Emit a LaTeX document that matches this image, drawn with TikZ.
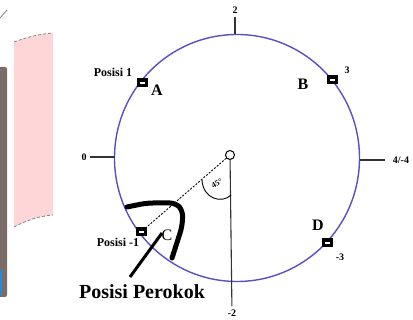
\documentclass[tikz,border=0pt]{standalone}
\usepackage{fontspec}
\setmainfont{Liberation Serif}
\usepackage{xcolor}
\usepackage{tikz}
\usetikzlibrary{calc}
\definecolor{ringblue}{RGB}{88,78,200}
\definecolor{barbrown}{RGB}{122,108,104}
\definecolor{bandpink}{RGB}{255,214,216}
\definecolor{tabblue}{RGB}{30,140,220}

\begin{document}
\begin{tikzpicture}[x=1pt,y=-1pt,
    marker/.style={fill=black,minimum width=11pt,minimum height=9pt,inner sep=0pt},
    letter/.style={font=\bfseries\fontsize{16}{16}\selectfont,inner sep=0pt},
    poslabel/.style={font=\bfseries\fontsize{12}{12}\selectfont,inner sep=0pt},
    num/.style={font=\bfseries\fontsize{10}{10}\selectfont,inner sep=3pt},
    tick/.style={line width=1.1pt,black!80}]
    \useasboundingbox (0,0) rectangle (413,320);
    % edge of the screenshot
    \fill[barbrown,rounded corners=2pt] (-4,67) rectangle (7,297);
    \fill[tabblue] (-4,270) rectangle (2,295);
    \draw[gray,line width=0.8pt] (0,18) -- (7,10);
    \fill[bandpink] (14,42) .. controls (27,37) and (40,34) .. (53,33) -- (53,215)
        .. controls (40,216) and (27,220) .. (14,227) -- cycle;
    \draw[gray,dash pattern=on 3pt off 2pt,line width=0.8pt] (14,42) .. controls (27,37) and (40,34) .. (53,33);
    \draw[gray,dash pattern=on 3pt off 2pt,line width=0.8pt] (14,227) .. controls (27,220) and (40,216) .. (53,215);
    % ring
    \draw[ringblue,line width=1.4pt] (237,158) ellipse [x radius=122.5pt, y radius=123.5pt];
    \coordinate (p0) at (115,157);
    \coordinate (p2) at (235,34);
    \coordinate (p4) at (360,160);
    \node[num] (l0) at (84,157) {0};
    \node[num] (l2) at (235,10) {2};
    \node[num,inner xsep=8pt] (l4) at (401,160) {4/-4};
    \draw[tick] (p0) -- (l0);
    \draw[tick] (p2) -- (l2);
    \draw[tick] (p4) -- (l4);
    % positions on the ring
    \node[marker] (mA) at (142,83) {};
    \node[marker] (mB) at (332,80) {};
    \node[marker] (mC) at (141,232) {};
    \node[marker] (mD) at (327,243) {};
    \foreach \m in {mA,mB,mC,mD}
        \fill[white] ($(\m)+(-2.5,-0.7)$) rectangle ($(\m)+(2.5,0.7)$);
    \node[letter] (tA) at (157,90) {A};
    \node[letter] (tB) at (303,84) {B};
    \node[letter,font=\fontsize{16}{16}\selectfont] (tC) at (167,235) {C};
    \node[letter] (tD) at (318,225) {D};
    \node[poslabel] (q1) at (113,72) {Posisi 1};
    \node[poslabel] (qm1) at (118,242) {Posisi -1};
    \node[num,inner sep=0pt] (n3) at (347,70) {3};
    \node[num,inner sep=0pt] (nm3) at (340,257) {-3};
    % centre and angle
    \node[circle,draw,line width=1pt,fill=white,minimum size=9pt,inner sep=0pt] (ctr) at (230,155) {};
    \node[num] (lm2) at (232,313) {-2};
    \draw[tick] (ctr) -- (lm2);
    \draw[line width=0.9pt,dash pattern=on 2pt off 1.5pt] (ctr) -- (mC);
    \coordinate (a1) at (202,180);
    \coordinate (a2) at (231,195);
    \draw[line width=0.9pt] (a1) .. controls (203,199) and (222,204) .. (a2);
    \node[font=\bfseries\fontsize{8}{8}\selectfont,rotate=30,inner sep=0pt] (ang) at (217,183) {45°};
    % smoker
    \draw[line width=5pt,line cap=round,line join=round,rounded corners=6pt]
        (127,207) -- (147,203) -- (176,203) -- (183,211) -- (182,227) -- (172,258);
    \node[font=\bfseries\fontsize{20}{20}\selectfont,inner sep=0pt] (pp) at (142,292) {Posisi Perokok};
    \coordinate (ptip) at (162,233);
    \coordinate (pend) at (130,277);
    \draw[line width=3pt] (ptip) -- (pend);
\end{tikzpicture}
\end{document}
